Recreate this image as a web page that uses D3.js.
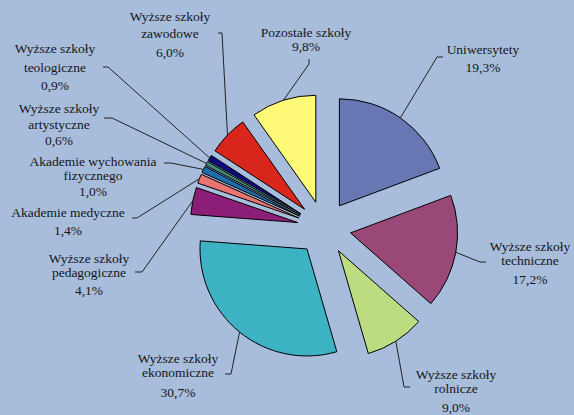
<!DOCTYPE html>
<html><head><meta charset="utf-8">
<script src="https://cdn.jsdelivr.net/npm/d3@7"></script>
<style>html,body{margin:0;padding:0;background:#a8bddc;} svg{display:block}
text{font-family:"Liberation Serif","Times New Roman",Times,serif;}</style>
</head><body><svg id="c" width="574" height="415"></svg>
<script>
// ---- data ----
const categories = ["Uniwersytety","Wyższe szkoły techniczne","Wyższe szkoły rolnicze","Wyższe szkoły ekonomiczne","Wyższe szkoły pedagogiczne","Akademie medyczne","Akademie wychowania fizycznego","Wyższe szkoły artystyczne","Wyższe szkoły teologiczne","Wyższe szkoły zawodowe","Pozostałe szkoły"];
const values = [19.3, 17.2, 9.0, 30.7, 4.1, 1.4, 1.0, 0.6, 0.9, 6.0, 9.8];
const labelLines = [
  ["Uniwersytety"],
  ["Wyższe szkoły","techniczne"],
  ["Wyższe szkoły","rolnicze"],
  ["Wyższe szkoły","ekonomiczne"],
  ["Wyższe szkoły","pedagogiczne"],
  ["Akademie medyczne"],
  ["Akademie wychowania","fizycznego"],
  ["Wyższe szkoły","artystyczne"],
  ["Wyższe szkoły","teologiczne"],
  ["Wyższe szkoły","zawodowe"],
  ["Pozostałe szkoły"]
];

// ---- styles / layout ----
const colors = ["#6677b3","#9a4878","#bddc82","#3cb2c3","#8d1e77","#e87570","#1e6eae","#3e9080","#0c0c80","#d9261c","#fffa78"];
const cx = 324, cy = 228, R = 107, explode = 27;
// label layout: text center x, baselines, leader start + elbow
const labelLayout = [
  {x:483, ys:[54,72],      lead:[[443,57],[437,57]]},
  {x:530, ys:[251,265,284],lead:[[486,262],[480,262]]},
  {x:456, ys:[379,393,412],lead:[[410,387],[404,387]]},
  {x:178, ys:[363,377,397],lead:[[225,374],[231,374]]},
  {x:89,  ys:[263,277,295],lead:[[135,272],[142,272]]},
  {x:68,  ys:[217,235],    lead:[[132,218],[137,218]]},
  {x:93,  ys:[166,180,196],lead:[[164,163],[171,163]]},
  {x:59,  ys:[113,129,145],lead:[[104,118],[112,118]]},
  {x:55,  ys:[53,72,90],   lead:[[103,67],[108,67]]},
  {x:170, ys:[21,38,57],   lead:[[218,33],[222,33]]},
  {x:306, ys:[37,51],      lead:[[309,59],[309,64]]}
];

const svg = d3.select("#c");
svg.append("rect").attr("width",574).attr("height",415).attr("fill","#a8bddc");

const pie = d3.pie().sort(null).value(d=>d).startAngle(0).endAngle(2*Math.PI);
const arcs = pie(values);
const arcGen = d3.arc().innerRadius(0).outerRadius(R);
const loc = d3.formatLocale({decimal:",", thousands:" ", grouping:[3], currency:["","zł"]});
const fmt = loc.format(".1f");

const g = svg.append("g").attr("transform",`translate(${cx},${cy})`);

function off(a){ const m=(a.startAngle+a.endAngle)/2; return [Math.sin(m)*explode, -Math.cos(m)*explode]; }

g.selectAll("path.slice").data(arcs).enter().append("path")
  .attr("class","slice")
  .attr("d",arcGen)
  .attr("transform",d=>{const o=off(d);return `translate(${o[0]},${o[1]})`;})
  .attr("fill",(d,i)=>colors[i])
  .attr("stroke","#000").attr("stroke-width",1).attr("stroke-linejoin","miter");

// leader lines
const line = d3.line();
arcs.forEach((d,i)=>{
  const m=(d.startAngle+d.endAngle)/2;
  const o=off(d);
  const end=[cx+o[0]+Math.sin(m)*R, cy+o[1]-Math.cos(m)*R];
  const L=labelLayout[i];
  svg.append("path").attr("d",line([L.lead[0],L.lead[1],end]))
    .attr("fill","none").attr("stroke","#222").attr("stroke-width",1);
});

// labels
arcs.forEach((d,i)=>{
  const L=labelLayout[i];
  const lines = labelLines[i].concat([fmt(values[i])+"%"]);
  const t = svg.append("text").attr("text-anchor","middle")
    .style("font-family","'Liberation Serif','Times New Roman',Times,serif")
    .style("font-size","13.5px").attr("fill","#161616");
  lines.forEach((s,k)=>{
    t.append("tspan").attr("x",L.x).attr("y",L.ys[k]).text(s);
  });
});
</script>
</body></html>
